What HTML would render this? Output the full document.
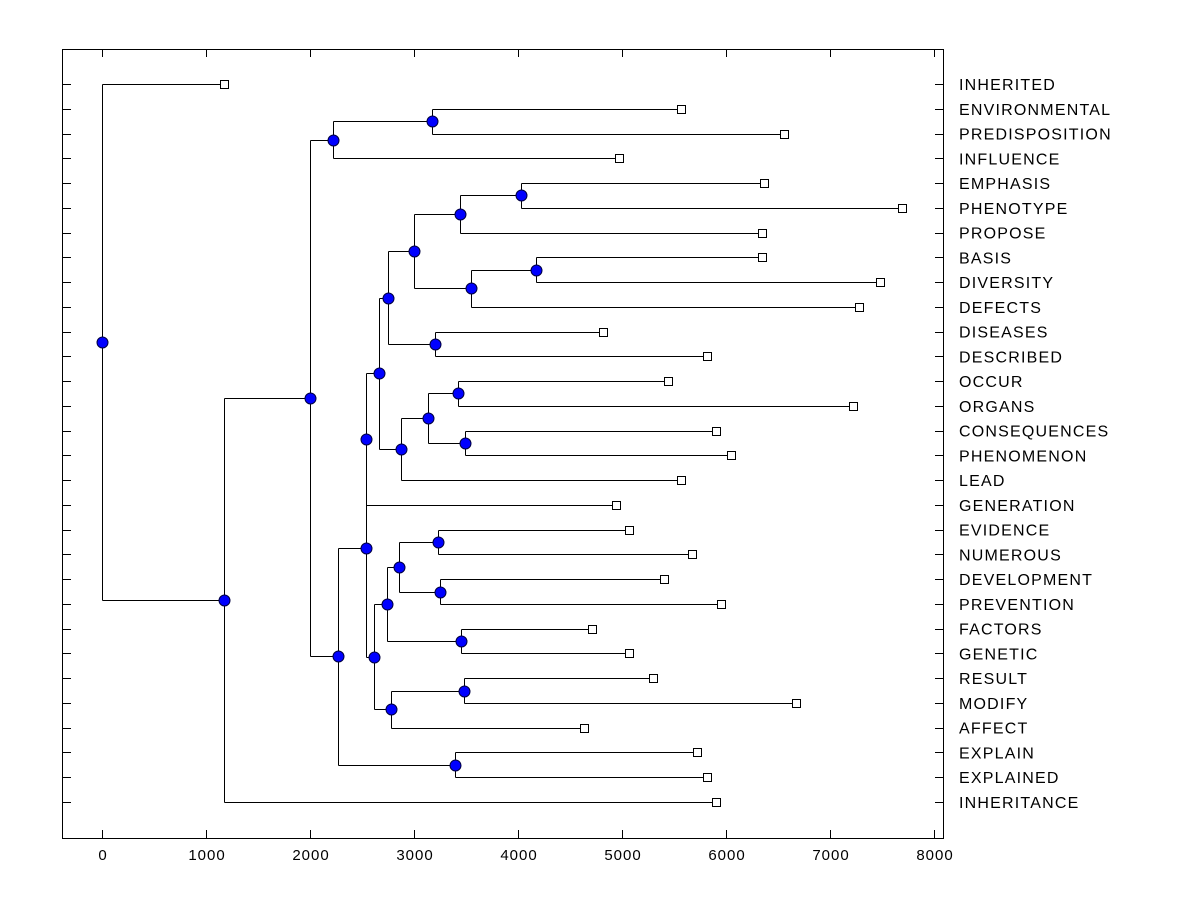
<!DOCTYPE html>
<html><head><meta charset="utf-8"><style>
html,body{margin:0;padding:0;background:#fff;}
svg{display:block;font-family:"Liberation Sans",Arial,sans-serif;}
</style></head><body>
<svg id="chart" width="1200" height="900" xmlns="http://www.w3.org/2000/svg"></svg>
<script>
const labels=["INHERITED","ENVIRONMENTAL","PREDISPOSITION","INFLUENCE","EMPHASIS","PHENOTYPE","PROPOSE","BASIS","DIVERSITY","DEFECTS","DISEASES","DESCRIBED","OCCUR","ORGANS","CONSEQUENCES","PHENOMENON","LEAD","GENERATION","EVIDENCE","NUMEROUS","DEVELOPMENT","PREVENTION","FACTORS","GENETIC","RESULT","MODIFY","AFFECT","EXPLAIN","EXPLAINED","INHERITANCE"];
const leafValues=[1173,5567,6558,4971,6365,7692,6346,6346,7481,7279,4817,5817,5442,7221,5904,6048,5567,4942,5067,5673,5404,5952,4712,5067,5298,6673,4635,5721,5817,5904];
// internal nodes: [name, height, childA, childB]
const nodes=[
["n1",3173,"ENVIRONMENTAL","PREDISPOSITION"],
["n2",2221,"n1","INFLUENCE"],
["n3",4029,"EMPHASIS","PHENOTYPE"],
["n4",3442,"n3","PROPOSE"],
["n5",4173,"BASIS","DIVERSITY"],
["n6",3548,"n5","DEFECTS"],
["n7",3000,"n4","n6"],
["n8",3202,"DISEASES","DESCRIBED"],
["n9",2750,"n7","n8"],
["n10",3423,"OCCUR","ORGANS"],
["n11",3490,"CONSEQUENCES","PHENOMENON"],
["n12",3135,"n10","n11"],
["n13",2875,"n12","LEAD"],
["n14",2663,"n9","n13"],
["n15",2538,"n14","GENERATION"],
["n16",3231,"EVIDENCE","NUMEROUS"],
["n17",3250,"DEVELOPMENT","PREVENTION"],
["n18",2856,"n16","n17"],
["n19",3452,"FACTORS","GENETIC"],
["n20",2740,"n18","n19"],
["n21",3481,"RESULT","MODIFY"],
["n22",2779,"n21","AFFECT"],
["n23",2615,"n20","n22"],
["n24",2538,"n15","n23"],
["n25",3394,"EXPLAIN","EXPLAINED"],
["n26",2269,"n24","n25"],
["n27",2000,"n2","n26"],
["n28",1173,"n27","INHERITANCE"],
["root",0,"INHERITED","n28"]
];
const xTicks=[0,1000,2000,3000,4000,5000,6000,7000,8000];

const svg=document.getElementById('chart');
const NS="http://www.w3.org/2000/svg";
const L=62,R=943,T=49,B=838;
const xs=v=>102+v*0.104;
const ys=i=>84+i*(718/29);
function mk(tag,attrs,parent){const e=document.createElementNS(NS,tag);for(const k in attrs)e.setAttribute(k,attrs[k]);(parent||svg).appendChild(e);return e;}

const frame=mk('rect',{x:L+0.5,y:T+0.5,width:R-L,height:B-T,fill:'none',stroke:'#000','stroke-width':1});



const axisG=mk('g',{});


xTicks.forEach(t=>{
  const x=Math.round(xs(t))+0.5;
  mk('line',{x1:x,x2:x,y1:B,y2:B-8,stroke:'#000'},axisG);
  mk('line',{x1:x,x2:x,y1:T,y2:T+8,stroke:'#000'},axisG);
  const tx=mk('text',{x:x+0.5,y:860,'font-size':15,'letter-spacing':'1px','text-anchor':'middle',fill:'#000'},axisG);
  tx.textContent=t;
  
  
});

const pos={};
labels.forEach((lab,i)=>{pos[lab]={x:xs(leafValues[i]),y:ys(i),leaf:true};});
const lineG=mk('g',{stroke:'#000','stroke-width':1,fill:'none'});


nodes.forEach(n=>{
  const a=pos[n[2]],b=pos[n[3]];
  const x=xs(n[1]);
  const y=(a.y+b.y)/2;
  const rx=Math.round(x)+0.5;
  mk('line',{x1:rx,x2:rx,y1:Math.round(a.y)+0.5,y2:Math.round(b.y)+0.5},lineG);
  [a,b].forEach(c=>mk('line',{x1:rx,x2:Math.round(c.x)+0.5,y1:Math.round(c.y)+0.5,y2:Math.round(c.y)+0.5},lineG));
  pos[n[0]]={x:x,y:y,leaf:false};
});

labels.forEach((lab,i)=>{
  const y=Math.round(ys(i))+0.5;
  mk('line',{x1:L,x2:L+9,y1:y,y2:y,stroke:'#000'});
  mk('line',{x1:R-8,x2:R,y1:y,y2:y,stroke:'#000'});
  const t=mk('text',{x:959,y:ys(i)+6,'font-size':16,'letter-spacing':'1.2px',fill:'#000'});
  t.textContent=lab;
  
  
});

labels.forEach((lab,i)=>{
  const p=pos[lab];
  const r=mk('rect',{x:Math.round(p.x)-3.5,y:Math.round(p.y)-3.5,width:8,height:8,fill:'#fff',stroke:'#000'});
  
  
});
nodes.forEach(n=>{
  const p=pos[n[0]];
  const c=mk('circle',{cx:Math.round(p.x)+0.5,cy:Math.round(p.y)+0.5,r:5.5,fill:'#0000ff',stroke:'#000040','stroke-width':1});
  
  
});
</script>
</body></html>
